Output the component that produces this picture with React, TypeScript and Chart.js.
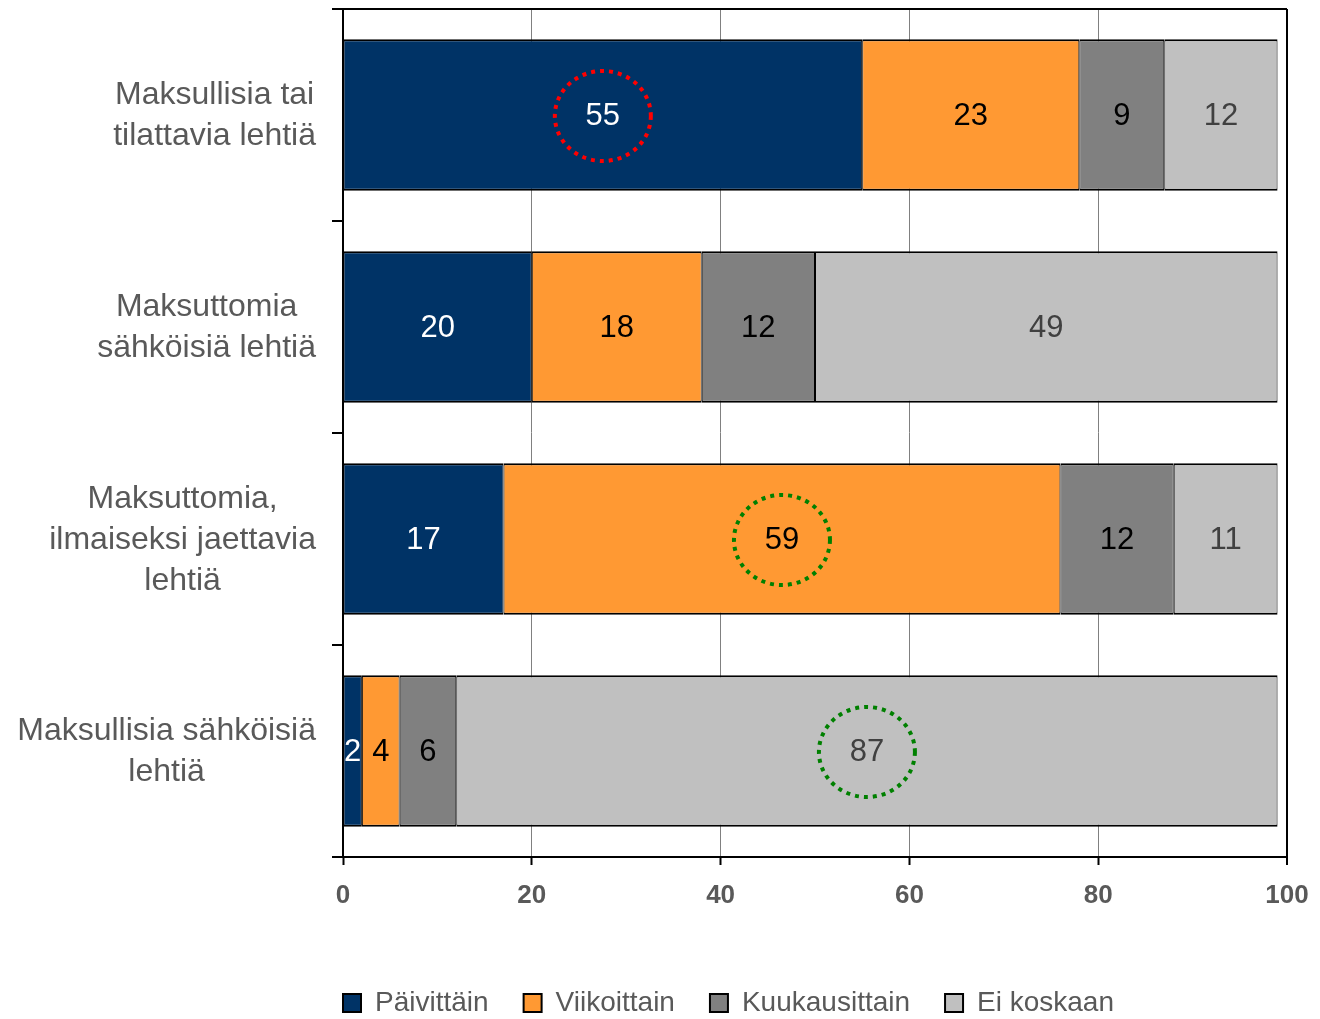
import React, { useEffect, useRef } from "react";
import { Chart, registerables } from "chart.js";

Chart.register(...registerables);

const categories: string[][] = [
  ["Maksullisia tai", "tilattavia lehtiä"],
  ["Maksuttomia", "sähköisiä lehtiä"],
  ["Maksuttomia,", "ilmaiseksi jaettavia", "lehtiä"],
  ["Maksullisia sähköisiä", "lehtiä"],
];

const seriesNames = ["Päivittäin", "Viikoittain", "Kuukausittain", "Ei koskaan"];
const paivittain = [55, 20, 17, 2];
const viikoittain = [23, 18, 59, 4];
const kuukausittain = [9, 12, 12, 6];
const eiKoskaan = [12, 49, 11, 87];

const seriesColors = ["#003366", "#FF9933", "#808080", "#C0C0C0"];
const labelColors = ["#FFFFFF", "#000000", "#000000", "#404040"];

const xMin = 0;
const xMax = 100;
const xStep = 20;

// highlighted values (category index, series index, ring colour)
const highlights = [
  { cat: 0, series: 0, color: "#FF0000" },
  { cat: 2, series: 1, color: "#008000" },
  { cat: 3, series: 3, color: "#008000" },
];

const FONT = "'Liberation Sans', Arial, sans-serif";
const TEXT_GRAY = "#595959";

export default function App() {
  const ref = useRef<HTMLCanvasElement | null>(null);

  useEffect(() => {
    document.body.style.margin = "0";
    const canvas = ref.current;
    if (!canvas) return;

    const values = [paivittain, viikoittain, kuukausittain, eiKoskaan];

    const customPlugin = {
      id: "custom",
      afterDraw(chart: any) {
        const ctx = chart.ctx;
        const area = chart.chartArea;
        const yScale = chart.scales.y;
        ctx.save();
        // top frame line
        ctx.strokeStyle = "#000";
        ctx.lineWidth = 2;
        ctx.beginPath();
        ctx.moveTo(area.left, area.top);
        ctx.lineTo(area.right, area.top);
        ctx.stroke();

        // data labels
        ctx.font = `31px ${FONT}`;
        ctx.textAlign = "center";
        ctx.textBaseline = "middle";
        chart.data.datasets.forEach((ds: any, di: number) => {
          const meta = chart.getDatasetMeta(di);
          meta.data.forEach((el: any, i: number) => {
            const v = ds.data[i];
            const cx = (el.x + el.base) / 2;
            ctx.fillStyle = labelColors[di];
            ctx.fillText(String(v), cx, el.y + 1);
          });
        });

        // highlight rings
        highlights.forEach((h) => {
          const el = chart.getDatasetMeta(h.series).data[h.cat];
          const cx = (el.x + el.base) / 2;
          ctx.strokeStyle = h.color;
          ctx.lineWidth = 4;
          ctx.setLineDash([4, 5]);
          ctx.beginPath();
          ctx.ellipse(cx, el.y + 1, 48, 45, 0, 0, Math.PI * 2);
          ctx.stroke();
        });
        ctx.setLineDash([]);

        // category labels (centered lines, right-aligned block)
        ctx.font = `32px ${FONT}`;
        ctx.fillStyle = TEXT_GRAY;
        const rightEdge = area.left - 27;
        const lineH = 41;
        categories.forEach((lines, i) => {
          const cy = yScale.getPixelForValue(i) + 1;
          const maxW = Math.max(...lines.map((l) => ctx.measureText(l).width));
          const cx = rightEdge - maxW / 2;
          const startY = cy - ((lines.length - 1) * lineH) / 2;
          lines.forEach((l, k) => {
            ctx.fillText(l, cx, startY + k * lineH);
          });
        });
        ctx.restore();
      },
    };

    const chart = new Chart(canvas, {
      type: "bar",
      data: {
        labels: categories.map((c) => c.join(" ")),
        datasets: seriesNames.map((name, i) => ({
          label: name,
          data: values[i],
          backgroundColor: seriesColors[i],
          borderColor: "#000000",
          borderWidth: { top: 2, bottom: 2, left: 1, right: 1 },
          borderSkipped: false,
          categoryPercentage: 1,
          barPercentage: 0.715,
        })),
      },
      options: {
        indexAxis: "y",
        responsive: false,
        animation: false,
        devicePixelRatio: 1,
        layout: { padding: { left: 308, right: 33, top: 9, bottom: -8 } },
        scales: {
          x: {
            stacked: true,
            min: xMin,
            max: xMax,
            ticks: {
              stepSize: xStep,
              color: TEXT_GRAY,
              font: { family: FONT, size: 26, weight: "bold" },
              padding: 15,
            },
            grid: {
              color: (c: any) =>
                c.tick && (c.tick.value === xMax || c.tick.value === xMin) ? "#000000" : "#808080",
              lineWidth: (c: any) => (c.tick && c.tick.value === xMax ? 2 : 1),
              tickColor: "#000000",
              tickLength: 8,
              tickWidth: 2,
            },
            border: { color: "#000000", width: 2 },
            afterFit(scale: any) {
              scale.height = 97;
              scale.paddingLeft = 0;
              scale.paddingRight = 0;
            },
          },
          y: {
            stacked: true,
            ticks: { display: false },
            grid: {
              offset: true,
              drawOnChartArea: false,
              color: "#000000",
              tickLength: 11,
              lineWidth: 2,
            },
            border: { color: "#000000", width: 2 },
            afterFit(scale: any) {
              scale.width = 35;
            },
          },
        },
        plugins: {
          legend: {
            position: "bottom",
            align: "start",
            labels: {
              boxWidth: 18,
              boxHeight: 18,
              padding: 35,
              color: TEXT_GRAY,
              font: { family: FONT, size: 28 },
              generateLabels: (ch: any) =>
                (Chart.defaults.plugins.legend.labels as any)
                  .generateLabels(ch)
                  .map((l: any) => ({ ...l, lineWidth: 2, strokeStyle: "#000000" })),
            },
          },
          tooltip: { enabled: false },
        },
      },
      plugins: [customPlugin],
    } as any);

    return () => chart.destroy();
  }, []);

  return (
    <canvas
      ref={ref}
      width={1320}
      height={1019}
      style={{ display: "block", width: 1320, height: 1019 }}
    />
  );
}
